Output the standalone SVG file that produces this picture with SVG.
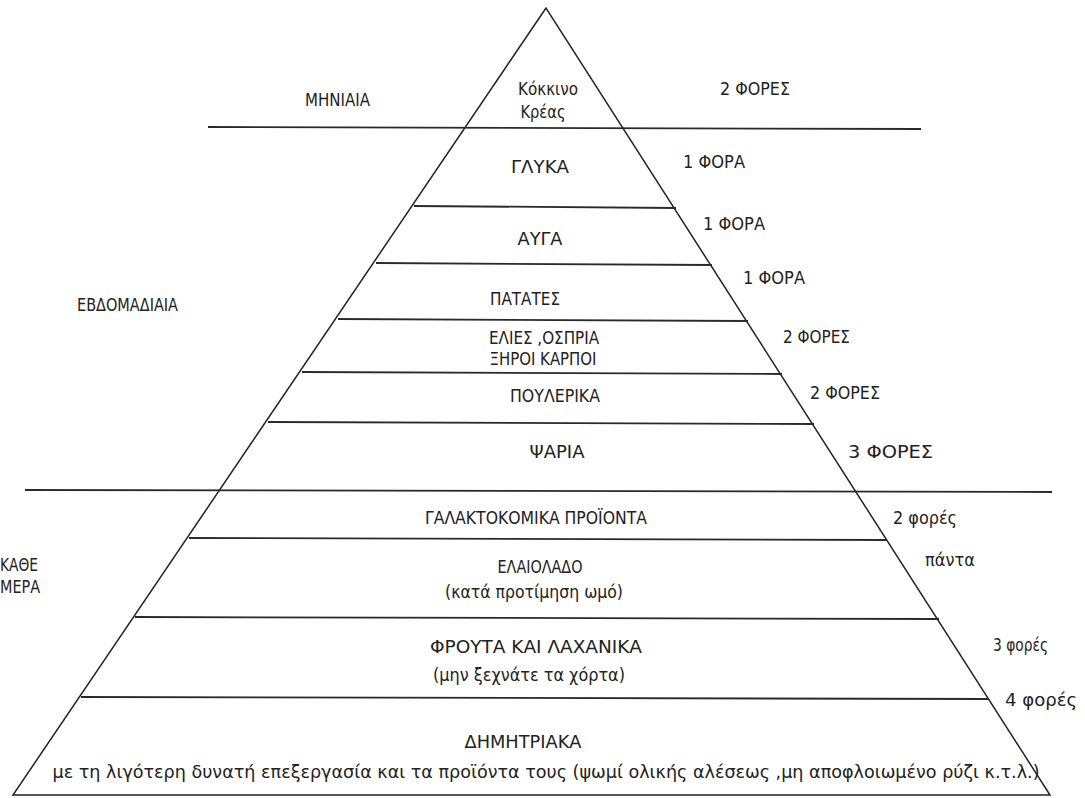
<svg xmlns="http://www.w3.org/2000/svg" width="1085" height="798" viewBox="0 0 1085 798">
<style>
.t{font-family:"DejaVu Sans Condensed","DejaVu Sans","Liberation Sans",sans-serif;font-stretch:condensed;font-size:17px;fill:#222;}
.c{text-anchor:middle;}
.ln{stroke:#2a2a2a;stroke-width:1.8;fill:none;}
.tri{stroke:#222;stroke-width:1.5;fill:none;stroke-linejoin:miter;}
</style>
<rect width="1085" height="798" fill="#fff"/>
<g id="lines">
<polygon class="tri" points="546,8 13,795 1050,795"/>
<line class="ln" x1="208" y1="127" x2="921" y2="129"/>
<line class="ln" x1="25" y1="490" x2="1052" y2="492"/>
<line class="ln" x1="414" y1="206" x2="676" y2="208"/>
<line class="ln" x1="376" y1="263" x2="712" y2="265"/>
<line class="ln" x1="338" y1="319" x2="748" y2="321"/>
<line class="ln" x1="302" y1="372" x2="782" y2="374"/>
<line class="ln" x1="268" y1="422" x2="814" y2="424"/>
<line class="ln" x1="189" y1="538" x2="887" y2="540"/>
<line class="ln" x1="135" y1="617" x2="939" y2="619"/>
<line class="ln" x1="81" y1="697" x2="989" y2="699"/>
</g>
<g id="label-minaia"><text class="t" x="305" y="106" textLength="65" lengthAdjust="spacingAndGlyphs">ΜΗΝΙΑΙΑ</text></g>
<g id="label-evdomadiaia"><text class="t" x="77" y="311" textLength="101" lengthAdjust="spacingAndGlyphs">ΕΒΔΟΜΑΔΙΑΙΑ</text></g>
<g id="label-kathe-mera"><text class="t" x="0" y="571" textLength="38" lengthAdjust="spacingAndGlyphs">ΚΑΘΕ</text><text class="t" x="0" y="593" textLength="40" lengthAdjust="spacingAndGlyphs">ΜΕΡΑ</text></g>
<g id="band-kreas"><text class="t c" x="548" y="95" textLength="60" lengthAdjust="spacingAndGlyphs">Κόκκινο</text><text class="t c" x="543" y="118" textLength="45" lengthAdjust="spacingAndGlyphs">Κρέας</text><text class="t" x="720" y="95" textLength="70" lengthAdjust="spacingAndGlyphs">2 ΦΟΡΕΣ</text></g>
<g id="band-glyka"><text class="t c" x="540" y="173" textLength="58" lengthAdjust="spacingAndGlyphs">ΓΛΥΚΑ</text><text class="t" x="683" y="168" textLength="62" lengthAdjust="spacingAndGlyphs">1 ΦΟΡΑ</text></g>
<g id="band-avga"><text class="t c" x="540" y="245" textLength="45" lengthAdjust="spacingAndGlyphs">ΑΥΓΑ</text><text class="t" x="703" y="230" textLength="62" lengthAdjust="spacingAndGlyphs">1 ΦΟΡΑ</text></g>
<g id="band-patates"><text class="t c" x="525" y="305" textLength="70" lengthAdjust="spacingAndGlyphs">ΠΑΤΑΤΕΣ</text><text class="t" x="743" y="284" textLength="62" lengthAdjust="spacingAndGlyphs">1 ΦΟΡΑ</text></g>
<g id="band-elies"><text class="t c" x="544" y="344" textLength="110" lengthAdjust="spacingAndGlyphs">ΕΛΙΕΣ ,ΟΣΠΡΙΑ</text><text class="t c" x="543" y="365" textLength="107" lengthAdjust="spacingAndGlyphs">ΞΗΡΟΙ ΚΑΡΠΟΙ</text><text class="t" x="783" y="343" textLength="67" lengthAdjust="spacingAndGlyphs">2 ΦΟΡΕΣ</text></g>
<g id="band-poulerika"><text class="t c" x="555" y="402" textLength="90" lengthAdjust="spacingAndGlyphs">ΠΟΥΛΕΡΙΚΑ</text><text class="t" x="810" y="399" textLength="70" lengthAdjust="spacingAndGlyphs">2 ΦΟΡΕΣ</text></g>
<g id="band-psaria"><text class="t c" x="557" y="458" textLength="55" lengthAdjust="spacingAndGlyphs">ΨΑΡΙΑ</text><text class="t" x="848" y="458" textLength="85" lengthAdjust="spacingAndGlyphs">3 ΦΟΡΕΣ</text></g>
<g id="band-galaktokomika"><text class="t c" x="536" y="524" textLength="222" lengthAdjust="spacingAndGlyphs">ΓΑΛΑΚΤΟΚΟΜΙΚΑ ΠΡΟΪΟΝΤΑ</text><text class="t" x="893" y="524" textLength="64" lengthAdjust="spacingAndGlyphs">2 φορές</text></g>
<g id="band-elaiolado"><text class="t c" x="540" y="573" textLength="85" lengthAdjust="spacingAndGlyphs">ΕΛΑΙΟΛΑΔΟ</text><text class="t c" x="534" y="598" textLength="178" lengthAdjust="spacingAndGlyphs">(κατά προτίμηση ωμό)</text><text class="t" x="925" y="566" textLength="50" lengthAdjust="spacingAndGlyphs">πάντα</text></g>
<g id="band-frouta"><text class="t c" x="536" y="653" textLength="212" lengthAdjust="spacingAndGlyphs">ΦΡΟΥΤΑ ΚΑΙ ΛΑΧΑΝΙΚΑ</text><text class="t c" x="529" y="681" textLength="192" lengthAdjust="spacingAndGlyphs">(μην ξεχνάτε τα χόρτα)</text><text class="t" x="993" y="651" textLength="55" lengthAdjust="spacingAndGlyphs">3 φορές</text></g>
<g id="band-dimitriaka"><text class="t c" x="523" y="748" textLength="117" lengthAdjust="spacingAndGlyphs">ΔΗΜΗΤΡΙΑΚΑ</text><text class="t c" x="546" y="778" textLength="987" lengthAdjust="spacingAndGlyphs">με τη λιγότερη δυνατή επεξεργασία και τα προϊόντα τους (ψωμί ολικής αλέσεως ,μη αποφλοιωμένο ρύζι κ.τ.λ.)</text><text class="t" x="1005" y="706" textLength="72" lengthAdjust="spacingAndGlyphs">4 φορές</text></g>
</svg>
